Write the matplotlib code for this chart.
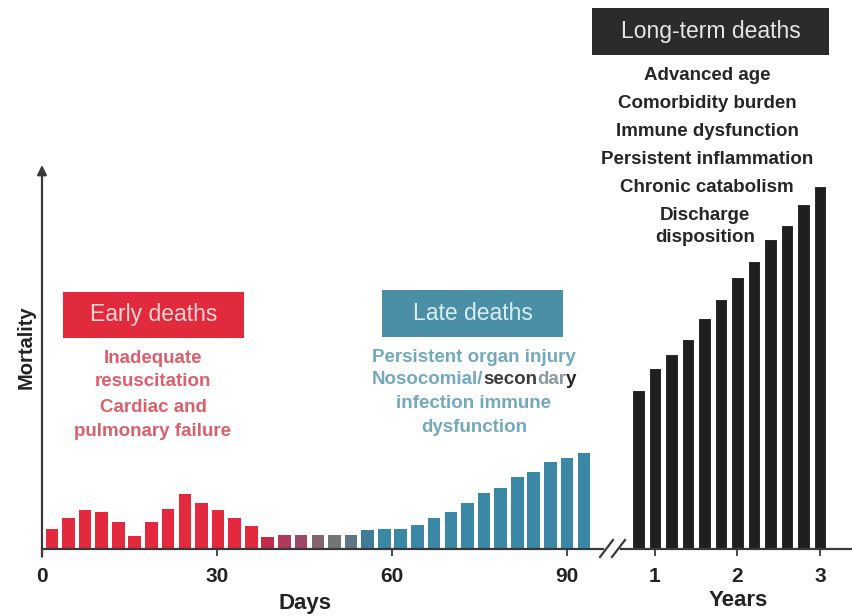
import matplotlib
matplotlib.use("Agg")
import matplotlib.pyplot as plt
from matplotlib.patches import Rectangle
from matplotlib.lines import Line2D

plt.rcParams['font.family'] = ['Liberation Sans', 'DejaVu Sans']

# ---------------- data ----------------
days = [1.7, 4.5, 7.4, 10.2, 13.1, 15.9, 18.8, 21.6, 24.5, 27.3, 30.2, 33.0,
        35.9, 38.7, 41.6, 44.4, 47.3, 50.1, 53.0, 55.8, 58.7, 61.5, 64.4, 67.2,
        70.1, 72.9, 75.8, 78.6, 81.5, 84.3, 87.2, 90.0, 92.9]
day_mortality = [20, 31, 39, 37, 27, 13, 27, 40, 55, 46, 39, 31, 23, 12, 14,
                 14, 14, 14, 14, 19, 20, 20, 24, 31, 37, 46, 56, 61, 72, 77,
                 87, 91, 96]
day_colors = (['#e2293d'] * 13 +
              ['#c02c48', '#b03a58', '#9c4866', '#826470', '#737676',
               '#5c7684', '#3e7c98'] +
              ['#3a88a6'] * 13)

years = [0.8, 1.0, 1.2, 1.4, 1.6, 1.8, 2.0, 2.2, 2.4, 2.6, 2.8, 3.0]
year_mortality = [159, 181, 195, 210, 231, 250, 272, 288, 310, 324, 345, 363]
year_color = '#1f1f1f'

day_ticks = [0, 30, 60, 90]
year_ticks = [1, 2, 3]

early_causes = ['Inadequate', 'resuscitation', 'Cardiac and', 'pulmonary failure']
late_causes = ['Persistent organ injury', 'Nosocomial/secondary',
               'infection immune', 'dysfunction']
long_causes = ['Advanced age', 'Comorbidity burden', 'Immune dysfunction',
               'Persistent inflammation', 'Chronic catabolism', 'Discharge',
               'disposition']

# ---------------- layout helpers ----------------
W, H = 853, 616
fig = plt.figure(figsize=(W / 100, H / 100), dpi=100)
fig.patch.set_facecolor('white')


def fx(x):
    return x / W


def fy(y):
    return 1 - y / H


base_y = 549
top_y = 165
axis_col = '#3a3a3a'
label_col = '#222222'

# left panel (days)
x0_l, x1_l = 42, 603
px_per_day = (567 - 42) / 90.0
ax1 = fig.add_axes([fx(x0_l), fy(base_y), (x1_l - x0_l) / W, (base_y - top_y) / H])
ax1.set_xlim(0, (x1_l - x0_l) / px_per_day)
ax1.set_ylim(0, base_y - top_y)
ax1.bar(days, day_mortality, width=2.15, color=day_colors, edgecolor='none')

# right panel (years)
x0_r, x1_r = 621, 853
px_per_year = (820 - 655) / 2.0
ax2 = fig.add_axes([fx(x0_r), fy(base_y), (x1_r - x0_r) / W, (base_y - top_y) / H])
ax2.set_xlim(1 + (x0_r - 655) / px_per_year, 1 + (x1_r - 655) / px_per_year)
ax2.set_ylim(0, base_y - top_y)
ax2.bar(years, year_mortality, width=0.155, color=year_color,
        edgecolor='white', linewidth=0.8)

for ax, ticks in ((ax1, day_ticks), (ax2, year_ticks)):
    ax.set_facecolor('none')
    for s in ('top', 'right', 'left'):
        ax.spines[s].set_visible(False)
    ax.spines['bottom'].set_color(axis_col)
    ax.spines['bottom'].set_linewidth(1.6)
    ax.set_yticks([])
    ax.set_xticks(ticks)
    ax.set_xticklabels([str(t) for t in ticks], fontweight='bold')
    ax.tick_params(axis='x', direction='out', length=5, width=1.3,
                   color=axis_col, pad=8, labelsize=15, labelcolor=label_col)

# y axis arrow
ax1.annotate('', xy=(0, 1.0), xycoords='axes fraction',
             xytext=(0, -0.02), textcoords='axes fraction',
             arrowprops=dict(arrowstyle='-|>', color=axis_col, lw=1.6,
                             mutation_scale=14, shrinkA=0, shrinkB=0))

# axis break marks
for dx in (0, 12):
    fig.add_artist(Line2D([fx(600 + dx), fx(613 + dx)], [fy(557), fy(540)],
                          color=axis_col, lw=1.6))

# axis labels
fig.text(fx(26), fy(347), 'Mortality', rotation=90, ha='center', va='center',
         fontsize=14.5, fontweight='bold', color=label_col)
fig.text(fx(305), fy(603), 'Days', ha='center', va='center',
         fontsize=16, fontweight='bold', color=label_col)
fig.text(fx(738), fy(600), 'Years', ha='center', va='center',
         fontsize=16, fontweight='bold', color=label_col)


# ---------------- header boxes ----------------
def header(x0, y0, x1, y1, label, fc, tc):
    fig.add_artist(Rectangle((fx(x0), fy(y1)), (x1 - x0) / W, (y1 - y0) / H,
                             facecolor=fc, edgecolor='none',
                             transform=fig.transFigure))
    fig.text(fx((x0 + x1) / 2), fy((y0 + y1) / 2), label, ha='center',
             va='center', fontsize=16.5, color=tc)


header(63, 292, 244, 338, 'Early deaths', '#e12a3c', '#f6d6d8')
header(382, 290, 563, 337, 'Late deaths', '#4a8fa6', '#dcedf2')
header(592, 8, 829, 55, 'Long-term deaths', '#2b2b2b', '#e6e6e6')

# ---------------- cause texts ----------------
early_col = '#d9606c'
late_col = '#72a9bd'
long_col = '#262626'
body_fs = 13.5
body_fw = 'bold'

for txt, y in zip(early_causes, [358, 382, 408, 432]):
    fig.text(fx(153), fy(y), txt, ha='center', va='center', fontsize=body_fs,
             fontweight=body_fw, color=early_col)

late_y = [357, 380, 403, 427]
for i, (txt, y) in enumerate(zip(late_causes, late_y)):
    if i == 1:
        continue
    fig.text(fx(474), fy(y), txt, ha='center', va='center', fontsize=body_fs,
             fontweight=body_fw, color=late_col)

# mixed-colour line "Nosocomial/secondary"
parts = [('Nosocomial/', late_col), ('secon', '#3c3c3c'),
         ('dar', '#8a9aa0'), ('y', '#222222')]
renderer = fig.canvas.get_renderer()
tmp = [fig.text(0, 0, p, fontsize=body_fs, fontweight=body_fw) for p, _ in parts]
widths = [t.get_window_extent(renderer).width for t in tmp]
for t in tmp:
    t.remove()
xstart = 474 - sum(widths) / 2
for (p, c), w in zip(parts, widths):
    fig.text(fx(xstart), fy(late_y[1]), p, ha='left', va='center',
             fontsize=body_fs, fontweight=body_fw, color=c)
    xstart += w

for txt, y in zip(long_causes, [75, 103, 131, 159, 187, 215, 238]):
    xc = 705 if txt in ('Discharge', 'disposition') else 707
    fig.text(fx(xc), fy(y), txt, ha='center', va='center', fontsize=body_fs,
             fontweight=body_fw, color=long_col)

fig.savefig('out.png', dpi=100, facecolor='white')
